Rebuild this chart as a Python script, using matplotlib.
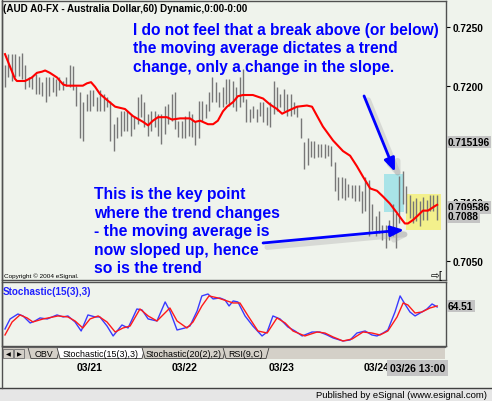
import matplotlib
matplotlib.use('Agg')
import matplotlib.pyplot as plt
from matplotlib.patches import Rectangle, Polygon
from matplotlib.transforms import blended_transform_factory
import matplotlib.patheffects as pe
import numpy as np

plt.rcParams['font.family'] = ['Liberation Sans', 'DejaVu Sans']

# ---------------- data ----------------
bar_high = [0.7218, 0.7227, 0.7227, 0.7227, 0.7225, 0.7228, 0.7218, 0.7207, 0.7208, 0.7210,
            0.7207, 0.7203, 0.7207, 0.7207, 0.7207, 0.7206, 0.7207, 0.7204, 0.7207, 0.7218,
            0.7217, 0.7200, 0.7195, 0.7186, 0.7193, 0.7196, 0.7196, 0.7190, 0.7196, 0.7193,
            0.7190, 0.7187, 0.7167, 0.7173, 0.7178, 0.7178, 0.7178, 0.7176, 0.7173, 0.7190,
            0.7193, 0.7186, 0.7176, 0.7178, 0.7178, 0.7176, 0.7176, 0.7183, 0.7184, 0.7193,
            0.7195, 0.7170, 0.7170, 0.7174, 0.7178, 0.7176, 0.7170, 0.7187, 0.7187, 0.7184,
            0.7195, 0.7207, 0.7203, 0.7195, 0.7199, 0.7206, 0.7206,
            0.7204, 0.7199, 0.7207, 0.7214, 0.7189, 0.7180, 0.7183, 0.7180, 0.7186, 0.7186,
            0.7182, 0.7186, 0.7204, 0.7199, 0.7193, 0.7197, 0.7193, 0.7193, 0.7186, 0.7183,
            0.7172, 0.7152, 0.7155, 0.7153, 0.7153, 0.7150, 0.7150, 0.7150, 0.7149, 0.7148,
            0.7135, 0.7122, 0.7122, 0.7121, 0.7116, 0.7115, 0.7115, 0.7115, 0.7110, 0.7122,
            0.7119, 0.7099, 0.7088, 0.7093, 0.7081, 0.7081, 0.7085, 0.7099, 0.7091, 0.7123,
            0.7127, 0.7114, 0.7106, 0.7101, 0.7104, 0.7101, 0.7105, 0.7102, 0.7106, 0.7106, 0.7106]
bar_low = [0.7199, 0.7207, 0.7204, 0.7207, 0.7208, 0.7206, 0.7197, 0.7199, 0.7197, 0.7193,
           0.7193, 0.7191, 0.7186, 0.7191, 0.7195, 0.7191, 0.7196, 0.7196, 0.7200, 0.7199,
           0.7196, 0.7183, 0.7155, 0.7153, 0.7178, 0.7178, 0.7183, 0.7178, 0.7178, 0.7178,
           0.7182, 0.7153, 0.7144, 0.7155, 0.7157, 0.7161, 0.7161, 0.7157, 0.7163, 0.7167,
           0.7173, 0.7165, 0.7157, 0.7161, 0.7165, 0.7157, 0.7150, 0.7159, 0.7167, 0.7170,
           0.7163, 0.7156, 0.7155, 0.7155, 0.7157, 0.7156, 0.7149, 0.7155, 0.7170, 0.7172,
           0.7178, 0.7186, 0.7186, 0.7182, 0.7182, 0.7184, 0.7183,
           0.7182, 0.7178, 0.7182, 0.7186, 0.7169, 0.7169, 0.7172, 0.7169, 0.7174, 0.7169,
           0.7166, 0.7165, 0.7176, 0.7178, 0.7182, 0.7178, 0.7174, 0.7174, 0.7176, 0.7173,
           0.7155, 0.7129, 0.7132, 0.7139, 0.7138, 0.7139, 0.7139, 0.7138, 0.7140, 0.7131,
           0.7110, 0.7102, 0.7104, 0.7102, 0.7105, 0.7104, 0.7101, 0.7101, 0.7091, 0.7093,
           0.7071, 0.7076, 0.7071, 0.7074, 0.7068, 0.7061, 0.7068, 0.7071, 0.7061, 0.7082,
           0.7099, 0.7091, 0.7087, 0.7082, 0.7084, 0.7080, 0.7085, 0.7085, 0.7093, 0.7093, 0.7085]

ma_bar = [0, 2.9, 3.5, 5.9, 7.9, 9.4, 10.9, 11.8, 13.2, 15.3, 17.1, 18.2, 22.9, 24.1, 25.3,
          26.5, 27.9, 30.3, 32.4, 35.3, 37.6, 40.6, 42.1, 43.5, 45.0, 47.6, 49.1, 51.5, 54.4, 55.9,
          57.4, 59.7, 61.2, 62.6, 64.1, 65.3, 67.1, 68.5, 70.0, 72.9, 75.9, 77.9, 80.0, 81.5, 82.9,
          85.9, 88.8, 90.3, 91.8, 93.5, 96.5, 99.4, 101.5, 103.5, 105.3, 107.4, 109.4, 111.2, 113.2,
          115.3, 116.8, 117.6, 118.5, 120.0, 121.5, 122.9, 124.4, 126.5, 127.1]
ma_val = [0.7227, 0.7206, 0.7204, 0.7204, 0.7207, 0.7211, 0.7212, 0.7213, 0.7211, 0.7207,
          0.7201, 0.7200, 0.7200, 0.7202, 0.7203, 0.7199, 0.7193, 0.7187, 0.7182, 0.7180,
          0.7174, 0.7169, 0.7166, 0.7170, 0.7173, 0.7173, 0.7171, 0.7172, 0.7172, 0.7169,
          0.7170, 0.7167, 0.7167, 0.7170, 0.7178, 0.7182, 0.7186, 0.7191, 0.7192, 0.7192,
          0.7189, 0.7184, 0.7180, 0.7176, 0.7178, 0.7182, 0.7183, 0.7182, 0.7174, 0.7165,
          0.7153, 0.7144, 0.7140, 0.7131, 0.7122, 0.7112, 0.7110, 0.7105, 0.7099, 0.7091,
          0.7085, 0.7082, 0.7082, 0.7085, 0.7089, 0.7093, 0.7093, 0.7097, 0.7098]

stk_bar = [0, 1.5, 3.8, 5.3, 7.4, 8.8, 10.3, 12.4, 15.3, 17.1, 18.5, 20.6, 22.4, 24.4, 26.5,
           27.9, 30.0, 31.8, 34.4, 36.2, 38.8, 40.3, 42.1, 44.7, 47.1, 48.5, 50.6, 52.9, 54.4,
           56.5, 57.9, 59.7, 61.2, 63.2, 64.7, 65.9, 67.1, 68.5, 70.6, 72.9, 75.6, 77.1, 78.8,
           80.9, 83.2, 85.3, 87.4, 90.3, 92.6, 94.7, 96.5, 99.4, 101.5, 103.5, 105.9, 107.9,
           109.4, 111.2, 112.6, 114.7, 116.2, 117.6, 119.1, 120.6, 122.6, 124.1, 125.6, 127.1]
stk_val = [25.4, 42.4, 50.8, 47.5, 35.6, 39.0, 44.1, 42.4, 49.2, 45.8, 47.5, 37.3, 22.0, 49.2,
           45.8, 45.8, 30.5, 13.6, 32.2, 27.1, 59.3, 57.6, 42.4, 39.0, 71.2, 55.9, 23.7, 27.1,
           30.5, 55.9, 81.4, 84.7, 76.3, 78.0, 74.6, 64.4, 72.9, 71.2, 47.5, 30.5, 13.6, 20.3,
           47.5, 42.4, 28.8, 22.0, 13.6, 20.3, 20.3, 15.3, 10.2, 5.1, 6.8, 18.6, 22.0, 15.3,
           13.6, 18.6, 23.7, 54.2, 81.4, 67.8, 54.2, 47.5, 54.2, 59.3, 67.8, 62.7]
std_bar = [0, 2.1, 4.4, 6.5, 8.2, 11.2, 15.6, 18.5, 20.6, 22.9, 25.0, 27.4, 30.0, 32.4, 34.7,
           36.8, 39.7, 42.1, 44.7, 48.5, 50.6, 53.5, 55.3, 57.9, 60.0, 62.6, 65.3, 67.1, 69.1,
           71.5, 74.4, 77.1, 80.0, 82.4, 84.7, 88.2, 91.8, 94.1, 96.5, 99.4, 102.1, 105.3, 107.9,
           110.3, 112.6, 115.3, 117.1, 118.5, 120.6, 122.6, 125.0, 127.1]
std_val = [15.3, 37.3, 49.2, 44.1, 37.3, 42.4, 47.5, 45.8, 39.0, 27.1, 42.4, 47.5, 37.3, 20.3,
           27.1, 30.5, 59.3, 47.5, 39.0, 61.0, 39.0, 27.1, 37.3, 64.4, 81.4, 78.0, 72.9, 69.5,
           69.5, 47.5, 22.0, 18.6, 44.1, 35.6, 22.0, 13.6, 20.3, 18.6, 11.9, 5.1, 8.5, 20.3,
           18.6, 15.3, 22.0, 45.8, 69.5, 66.1, 52.5, 54.2, 61.0, 64.5]

price_ticks = [0.7050, 0.7100, 0.7150, 0.7200, 0.7250]
price_labels = ['0.7050', '0.7100', '', '0.7200', '0.7250']   # 0.7150 sits under the cursor box
date_pos = [25.0, 52.9, 81.2, 109.4]
date_labels = ['03/21', '03/22', '03/23', '03/24']
last_close = 0.709586
cursor_price = 0.715196
ma_last = 0.7088
stoch_last = 64.51

# ---------------- layout ----------------
W, H = 492, 402
BG = '#eff3ec'
BLUE = '#0000ff'


def rect(l, t, r, b):
    return [l / W, 1 - b / H, (r - l) / W, (b - t) / H]


fig = plt.figure(figsize=(W / 100, H / 100), dpi=100)
fig.patch.set_facecolor(BG)

ax = fig.add_axes(rect(2, 2, 446, 281))
axs = fig.add_axes(rect(2, 283, 446, 347), sharex=ax)
axd = fig.add_axes(rect(2, 359, 446, 361), sharex=ax)

for a in (ax, axs):
    a.set_facecolor(BG)
    for s in a.spines.values():
        s.set_color('#505050')
        s.set_linewidth(1.0)

x = np.arange(len(bar_high))
ax.set_xlim(-0.88, 129.7)
ax.set_ylim(0.70336, 0.72725)

# highlight boxes
ax.add_patch(Rectangle((111.5, 0.70919), 5.9, 0.71244 - 0.70919, fc='#a9e4e8', ec='none', zorder=0.5))
ax.add_patch(Rectangle((117.9, 0.70765), 10.3, 0.71073 - 0.70765, fc='#f3f08c', ec='none', zorder=0.5))

ax.vlines(x, bar_low, bar_high, color='#777777', lw=1.0, zorder=2)
ax.plot(ma_bar, ma_val, color='#ff0000', lw=1.5, zorder=3)

ax.yaxis.tick_right()
ax.set_yticks(price_ticks)
ax.set_yticklabels(price_labels)
ax.tick_params(axis='y', length=3, pad=2, labelsize=7.3, colors='black')
for lb in ax.get_yticklabels():
    lb.set_fontweight('bold')
ax.tick_params(axis='x', bottom=False, labelbottom=False)

tr = blended_transform_factory(ax.transAxes, ax.transData)
for val, lab in [(cursor_price, '0.715196'), (last_close, '0.709586'), (ma_last, '0.7088')]:
    ax.text(1 + 2 / 444, val, lab, transform=tr, ha='left', va='center', fontsize=7.3,
            fontweight='bold', clip_on=False, zorder=6,
            bbox=dict(boxstyle='square,pad=0.12', fc='#c4c4c4', ec='none'))

# arrows
sh = [pe.SimpleLineShadow(offset=(3, -3), shadow_color='#a0a0a0', alpha=0.3, linewidth=4), pe.Normal()]
ax.annotate('', xy=(114.7, 0.71261), xytext=(105.6, 0.71912),
            arrowprops=dict(arrowstyle='-|>,head_length=1.0,head_width=0.4', color=BLUE, lw=2,
                            shrinkA=0, shrinkB=0, mutation_scale=8, path_effects=sh), zorder=7)
ax.annotate('', xy=(117.4, 0.70765), xytext=(75.9, 0.70653),
            arrowprops=dict(arrowstyle='-|>,head_length=1.0,head_width=0.4', color=BLUE, lw=2,
                            shrinkA=0, shrinkB=0, mutation_scale=8, path_effects=sh), zorder=7)

# stochastic
axs.plot(stk_bar, stk_val, color='#3a3aff', lw=1.0)
axs.plot(std_bar, std_val, color='#ff1a1a', lw=1.0)
axs.set_ylim(-3.4, 105)
axs.tick_params(axis='both', left=False, right=False, bottom=False,
                labelleft=False, labelbottom=False)
trs = blended_transform_factory(axs.transAxes, axs.transData)
axs.text(1 + 2 / 444, stoch_last, '%.2f' % stoch_last, transform=trs, ha='left', va='center',
         fontsize=7.3, fontweight='bold', clip_on=False,
         bbox=dict(boxstyle='square,pad=0.12', fc='#c4c4c4', ec='none'))

# date axis
axd.set_facecolor('none')
for s in axd.spines.values():
    s.set_visible(False)
axd.set_yticks([])
axd.set_xticks(date_pos)
axd.set_xticklabels(date_labels)
axd.tick_params(axis='x', length=0, pad=1.5, labelsize=7.5)
for lb in axd.get_xticklabels():
    lb.set_fontweight('bold')

# ---------------- overlay (chrome and notes) ----------------
ov = fig.add_axes([0, 0, 1, 1])
ov.set_xlim(0, W)
ov.set_ylim(H, 0)
ov.axis('off')
ov.patch.set_alpha(0)

ov.text(3, 12, '(AUD A0-FX - Australia Dollar,60) Dynamic,0:00-0:00', fontsize=7.1,
        fontweight='bold', va='baseline', ha='left')
note1 = ['I do not feel that a break above (or below)',
         'the moving average dictates a trend',
         'change, only a change in the slope.']
for i, s in enumerate(note1):
    ov.text(133, 34.5 + i * 18.7, s, fontsize=11.2, fontweight='bold', color=BLUE,
            va='baseline', ha='left')
note2 = ['This is the key point', 'where the trend changes', '- the moving average is',
         'now sloped up, hence', 'so is the trend']
for i, s in enumerate(note2):
    ov.text(94, 199 + i * 18.6, s, fontsize=11.3, fontweight='bold', color=BLUE,
            va='baseline', ha='left')
ov.text(4, 278, 'Copyright \u00a9 2004 eSignal.', fontsize=4.6, va='baseline', ha='left')
ov.text(431, 278, '\u21e8[', fontsize=7.5, va='baseline', ha='left', family='DejaVu Sans')
ov.text(3, 295, 'Stochastic(15(3),3)', fontsize=7.1, fontweight='bold', color='#2020ff',
        va='baseline', ha='left')

# tab bar
ov.add_patch(Rectangle((2, 348), 443, 12, fc='#d4d0c8', ec='none'))
ov.plot([2, 445], [348, 348], color='#606060', lw=0.8)
for bx, sym in [(3, '\u25c0'), (14, '\u25b6')]:
    ov.add_patch(Rectangle((bx, 349.5), 10, 9.5, fc='#d4d0c8', ec='#707070', lw=0.6))
    ov.text(bx + 5, 354.5, sym, fontsize=4.5, ha='center', va='center', family='DejaVu Sans')
tabs = [('OBV', 28, 57, False), ('Stochastic(15(3),3)', 57, 142, True),
        ('Stochastic(20(2),2)', 142, 223, False), ('RSI(9,C)', 223, 266, False)]
for lab, l, r, act in tabs:
    poly = Polygon([(l, 348.5), (r + 3, 348.5), (r, 359.5), (l + 3, 359.5)], closed=True,
                   fc='white' if act else '#d4d0c8', ec='#404040', lw=0.6)
    ov.add_patch(poly)
    ov.text((l + r + 3) / 2, 354.5, lab, fontsize=6.4, ha='center', va='center')

# cursor time box
ov.text(445, 369, '03/26 13:00', fontsize=7.5, fontweight='bold', ha='right', va='center',
        bbox=dict(boxstyle='square,pad=0.25', fc='#c4c4c4', ec='none'))

# footer
ov.add_patch(Rectangle((0, 388.5), W, H - 388.5, fc='#e6e6e6', ec='none'))
ov.plot([0, W], [388.5, 388.5], color='#404040', lw=1.0)
ov.text(487, 398, 'Published by eSignal (www.esignal.com)', fontsize=6.8, ha='right',
        va='baseline')
ov.plot([1.5, 1.5], [0, 388.5], color='#505050', lw=1.0)

fig.savefig('out.png', dpi=100, facecolor=BG)
